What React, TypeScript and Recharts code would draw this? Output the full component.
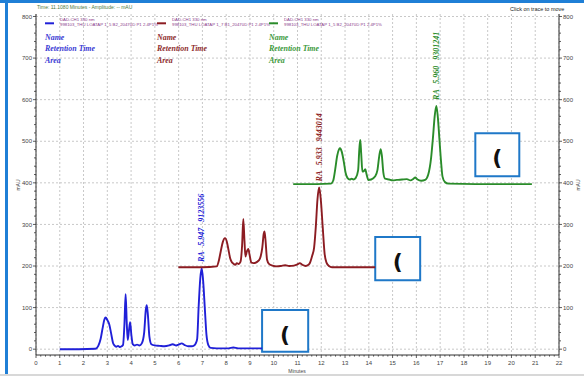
import React from 'react';
import { LineChart, Line, XAxis, YAxis, CartesianGrid, ReferenceArea } from 'recharts';

// ---- data (minutes, mAU) ----
const blueTimes = [1.0, 1.8, 2.5, 2.62, 2.72, 2.8, 2.88, 2.93, 3.0, 3.08, 3.16, 3.24, 3.3, 3.38, 3.45, 3.52, 3.6, 3.66, 3.72, 3.77, 3.82, 3.86, 3.91, 3.96, 4.01, 4.07, 4.15, 4.25, 4.35, 4.45, 4.55, 4.62, 4.66, 4.71, 4.77, 4.85, 5.0, 5.2, 5.4, 5.6, 5.75, 5.9, 6.0, 6.13, 6.25, 6.4, 6.55, 6.65, 6.72, 6.78, 6.84, 6.91, 6.97, 7.03, 7.1, 7.17, 7.25, 7.35, 7.6, 8.1, 8.3, 8.5, 9.0, 9.51];
const blueValues = [0, 0, 1, 8, 25, 50, 72, 76, 70, 60, 38, 15, 9, 6, 8, 5, 7, 10, 60, 132, 60, 22, 45, 65, 35, 12, 9, 11, 9, 14, 40, 95, 106, 80, 30, 12, 9, 8, 7, 9, 12, 9, 11, 14, 10, 7, 7, 9, 14, 25, 100, 170, 195, 165, 100, 35, 10, 3, 2, 2, 4, 2, 2, 2];

const redTimes = [5.99, 7.0, 7.6, 7.7, 7.78, 7.86, 7.95, 8.03, 8.1, 8.17, 8.24, 8.3, 8.38, 8.45, 8.52, 8.6, 8.67, 8.72, 8.77, 8.81, 8.87, 8.93, 8.99, 9.06, 9.15, 9.3, 9.42, 9.52, 9.58, 9.61, 9.65, 9.72, 9.8, 9.95, 10.13, 10.3, 10.48, 10.65, 10.85, 11.0, 11.1, 11.2, 11.35, 11.5, 11.62, 11.7, 11.77, 11.84, 11.91, 11.98, 12.06, 12.14, 12.22, 12.32, 12.45, 13.5, 14.27];
const redValues = [197, 197, 199, 215, 238, 258, 267, 258, 238, 218, 209, 206, 203, 207, 205, 210, 250, 313, 260, 223, 235, 241, 225, 208, 207, 210, 218, 245, 278, 283, 265, 215, 205, 201, 199, 200, 202, 200, 201, 204, 207, 203, 200, 205, 225, 245, 294, 360, 389, 360, 294, 230, 208, 200, 197, 197, 197];

const greenTimes = [10.82, 11.8, 12.4, 12.5, 12.58, 12.67, 12.75, 12.79, 12.86, 12.95, 13.02, 13.1, 13.2, 13.28, 13.35, 13.45, 13.55, 13.6, 13.64, 13.68, 13.73, 13.79, 13.85, 13.9, 13.98, 14.1, 14.26, 14.36, 14.44, 14.5, 14.55, 14.61, 14.68, 14.85, 15.0, 15.18, 15.4, 15.6, 15.75, 15.88, 15.95, 16.05, 16.2, 16.37, 16.5, 16.62, 16.7, 16.77, 16.84, 16.9, 16.97, 17.04, 17.1, 17.2, 17.35, 18.5, 20.86];
const greenValues = [397, 397, 398, 405, 430, 465, 481, 483, 475, 450, 425, 412, 408, 410, 408, 412, 430, 480, 503, 470, 427, 428, 433, 422, 407, 408, 415, 430, 465, 481, 465, 425, 410, 408, 406, 407, 408, 409, 406, 410, 413, 408, 405, 407, 420, 460, 510, 560, 585, 560, 505, 450, 415, 402, 398, 397, 397];

const xMajorTicks = [0, 1, 2, 3, 4, 5, 6, 7, 8, 9, 10, 11, 12, 13, 14, 15, 16, 17, 18, 19, 20, 21, 22];
const yMajorTicks = [0, 100, 200, 300, 400, 500, 600, 700, 800];

const traceNames = ['Name', 'Retention Time', 'Area'];
const channelLabel = 'DAD-CH1 330 nm';
const fileLabels = [
  '998103_THU LOATAP 1_5 B2_20470D P1 2.4P1%',
  '998103_THU LOATAP 1_7 B1_20470D P1 2.4P1%',
  '998103_THU LOATAP 1_5 B2_20470D P1 2.4P1%',
];
const peakLabels = ['RA   5.947   9123556', 'RA   5.933   9443014', 'RA   5.960   9301241'];

// annotation boxes (minutes / mAU)
const boxX1 = [9.51, 14.27, 18.48];
const boxX2 = [11.45, 16.16, 20.33];
const boxYTop = [94, 270, 519];
const boxYBottom = [-6, 166, 416];
const boxGlyph = '(';

// ---- derived ----
const toRows = (ts: number[], vs: number[]) => ts.map((t, i) => ({ t, v: vs[i] }));
const blueData = toRows(blueTimes, blueValues);
const redData = toRows(redTimes, redValues);
const greenData = toRows(greenTimes, greenValues);

const xAllTicks: number[] = [];
for (let k = 0; k <= 110; k++) xAllTicks.push(Math.round(k * 2) / 10);
const yAllTicks: number[] = [];
for (let k = 0; k <= 40; k++) yAllTicks.push(k * 20);

const COLORS = ['#2020d8', '#8c1c22', '#2a8c2a'];
const LEGEND_COLORS = ['#3a3ad4', '#8e2c2c', '#3c9a3c'];
const AXIS = '#333';
const FONT = '"Liberation Sans", Arial, sans-serif';
const SERIF = '"Liberation Serif", "Times New Roman", serif';

const XTick = (props: any) => {
  const { x, y, payload } = props;
  const v = payload.value;
  const major = Math.abs(v - Math.round(v)) < 1e-6;
  return (
    <g>
      <line x1={x} x2={x} y1={y} y2={y + (major ? 3 : 1.6)} stroke={AXIS} strokeWidth={0.8} />
      {major && (
        <text x={x} y={y + 10} textAnchor="middle" fontSize={6} fill="#444" fontFamily={FONT}>
          {Math.round(v)}
        </text>
      )}
    </g>
  );
};

const YTickLeft = (props: any) => {
  const { x, y, payload } = props;
  const v = payload.value;
  const major = v % 100 === 0;
  return (
    <g>
      <line x1={x} x2={x - (major ? 3 : 2)} y1={y} y2={y} stroke={AXIS} strokeWidth={0.8} />
      {major && (
        <text x={x - 4} y={y} dy="0.35em" textAnchor="end" fontSize={6} fill="#444" fontFamily={FONT}>
          {v}
        </text>
      )}
    </g>
  );
};

const YTickRight = (props: any) => {
  const { x, y, payload } = props;
  const v = payload.value;
  const major = v % 100 === 0;
  return (
    <g>
      <line x1={x} x2={x + (major ? 3 : 2)} y1={y} y2={y} stroke={AXIS} strokeWidth={0.8} />
      {major && (
        <text x={x + 4} y={y} dy="0.35em" textAnchor="start" fontSize={6} fill="#444" fontFamily={FONT}>
          {v}
        </text>
      )}
    </g>
  );
};

const peakDot = (peakIdx: number, text: string, color: string) => (props: any) => {
  const { cx, cy, index } = props;
  if (index !== peakIdx || cx == null || cy == null) return <g key={`d${index}`} />;
  const yy = cy - 6;
  return (
    <text
      key={`d${index}`}
      x={cx}
      y={yy}
      transform={`rotate(-90 ${cx} ${yy})`}
      dy="0.35em"
      fill={color}
      fontSize={8}
      fontWeight="bold"
      fontStyle="italic"
      fontFamily={SERIF}
      style={{ whiteSpace: 'pre' }}
    >
      {text}
    </text>
  );
};

const BoxLabel = (props: any) => {
  const vb = props.viewBox || {};
  const cx = vb.x + vb.width / 2;
  const cy = vb.y + vb.height / 2;
  return (
    <text
      x={cx}
      y={cy + 3}
      dy="0.35em"
      textAnchor="middle"
      fontSize={22}
      fontWeight="bold"
      fontFamily='"DejaVu Sans", sans-serif'
      fill="#111"
    >
      {boxGlyph}
    </text>
  );
};

const argMax = (a: number[]) => a.indexOf(Math.max(...a));

const legendX = [45, 157, 269];

export default function App() {
  const series = [
    { data: blueData, peak: argMax(blueValues) },
    { data: redData, peak: argMax(redValues) },
    { data: greenData, peak: argMax(greenValues) },
  ];
  return (
    <div style={{ position: 'absolute', left: 0, top: 0, width: 584, height: 376, background: '#fff', overflow: 'hidden' }}>
      <div style={{ position: 'absolute', left: 0, top: 0 }}>
        <LineChart width={584} height={376} margin={{ top: 14, right: 0, bottom: 0, left: 0 }}>
          <CartesianGrid
            yAxisId="left"
            stroke="#c8c8c8"
            strokeDasharray="2 2"
            verticalValues={xMajorTicks}
            horizontalValues={yMajorTicks}
          />
          <XAxis
            dataKey="t"
            type="number"
            domain={[0, 22]}
            ticks={xAllTicks}
            interval={0}
            tickSize={0}
            tickMargin={0}
            tick={<XTick />}
            height={21}
            stroke={AXIS}
            allowDataOverflow
          />
          <YAxis
            yAxisId="left"
            type="number"
            domain={[-14, 806]}
            ticks={yAllTicks}
            interval={0}
            tickSize={0}
            tickMargin={0}
            tick={<YTickLeft />}
            width={36}
            stroke={AXIS}
            allowDataOverflow
          />
          <YAxis
            yAxisId="right"
            orientation="right"
            type="number"
            domain={[-14, 806]}
            ticks={yAllTicks}
            interval={0}
            tickSize={0}
            tickMargin={0}
            tick={<YTickRight />}
            width={25}
            stroke={AXIS}
            allowDataOverflow
          />
          {series.map((s, i) => (
            <Line
              key={i}
              yAxisId="left"
              data={s.data}
              dataKey="v"
              type="monotone"
              stroke={COLORS[i]}
              strokeWidth={1.9}
              dot={peakDot(s.peak, peakLabels[i], COLORS[i])}
              activeDot={false}
              isAnimationActive={false}
            />
          ))}
          {boxX1.map((x1, i) => (
            <ReferenceArea
              key={`b${i}`}
              yAxisId="left"
              x1={x1}
              x2={boxX2[i]}
              y1={boxYBottom[i]}
              y2={boxYTop[i]}
              fill="#ffffff"
              fillOpacity={1}
              stroke="#1f78c8"
              strokeWidth={2}
              ifOverflow="visible"
              label={<BoxLabel />}
            />
          ))}
        </LineChart>
      </div>
      <svg width={584} height={376} style={{ position: 'absolute', left: 0, top: 0, pointerEvents: 'none' }}>
        {/* window frame */}
        <rect x={0} y={0} width={584} height={3} fill="#1f7fd6" />
        <rect x={5} y={0} width={3} height={376} fill="#1f7fd6" />
        <rect x={0} y={374} width={584} height={2} fill="#d8d8d8" />
        {/* header texts */}
        <text x={37} y={9} fontSize={5} fill="#4f7a3a" fontFamily={FONT}>Time:  11.1080 Minutes - Amplitude:  -- mAU</text>
        <text x={510} y={11} fontSize={5.5} fill="#222" fontFamily={FONT}>Click on trace to move</text>
        {/* axis titles */}
        <text x={20} y={185} fontSize={5} fill="#444" fontFamily={FONT} textAnchor="middle" transform="rotate(-90 20 185)">mAU</text>
        <text x={580} y={185} fontSize={5} fill="#444" fontFamily={FONT} textAnchor="middle" transform="rotate(-90 580 185)">mAU</text>
        <text x={297} y={373} fontSize={5} fill="#444" fontFamily={FONT} textAnchor="middle">Minutes</text>
        {/* legend */}
        {legendX.map((lx, i) => (
          <g key={`lg${i}`}>
            <line x1={lx} x2={lx + 9} y1={23.3} y2={23.3} stroke={COLORS[i]} strokeWidth={2} />
            <text x={lx + 15} y={21.3} fontSize={4.3} fill="#8a3a8a" fontFamily={FONT}>{channelLabel}</text>
            <text x={lx + 15} y={25.6} fontSize={4.3} fill="#8a3a8a" fontFamily={FONT}>{fileLabels[i]}</text>
            <g transform={`translate(${lx} 0) scale(0.88 1)`}>
              {traceNames.map((n, j) => (
                <text
                  key={n}
                  x={0}
                  y={40 + j * 11.5}
                  fontSize={9}
                  fontWeight="bold"
                  fontStyle="italic"
                  fill={LEGEND_COLORS[i]}
                  fontFamily={SERIF}
                >
                  {n}
                </text>
              ))}
            </g>
          </g>
        ))}
      </svg>
    </div>
  );
}
